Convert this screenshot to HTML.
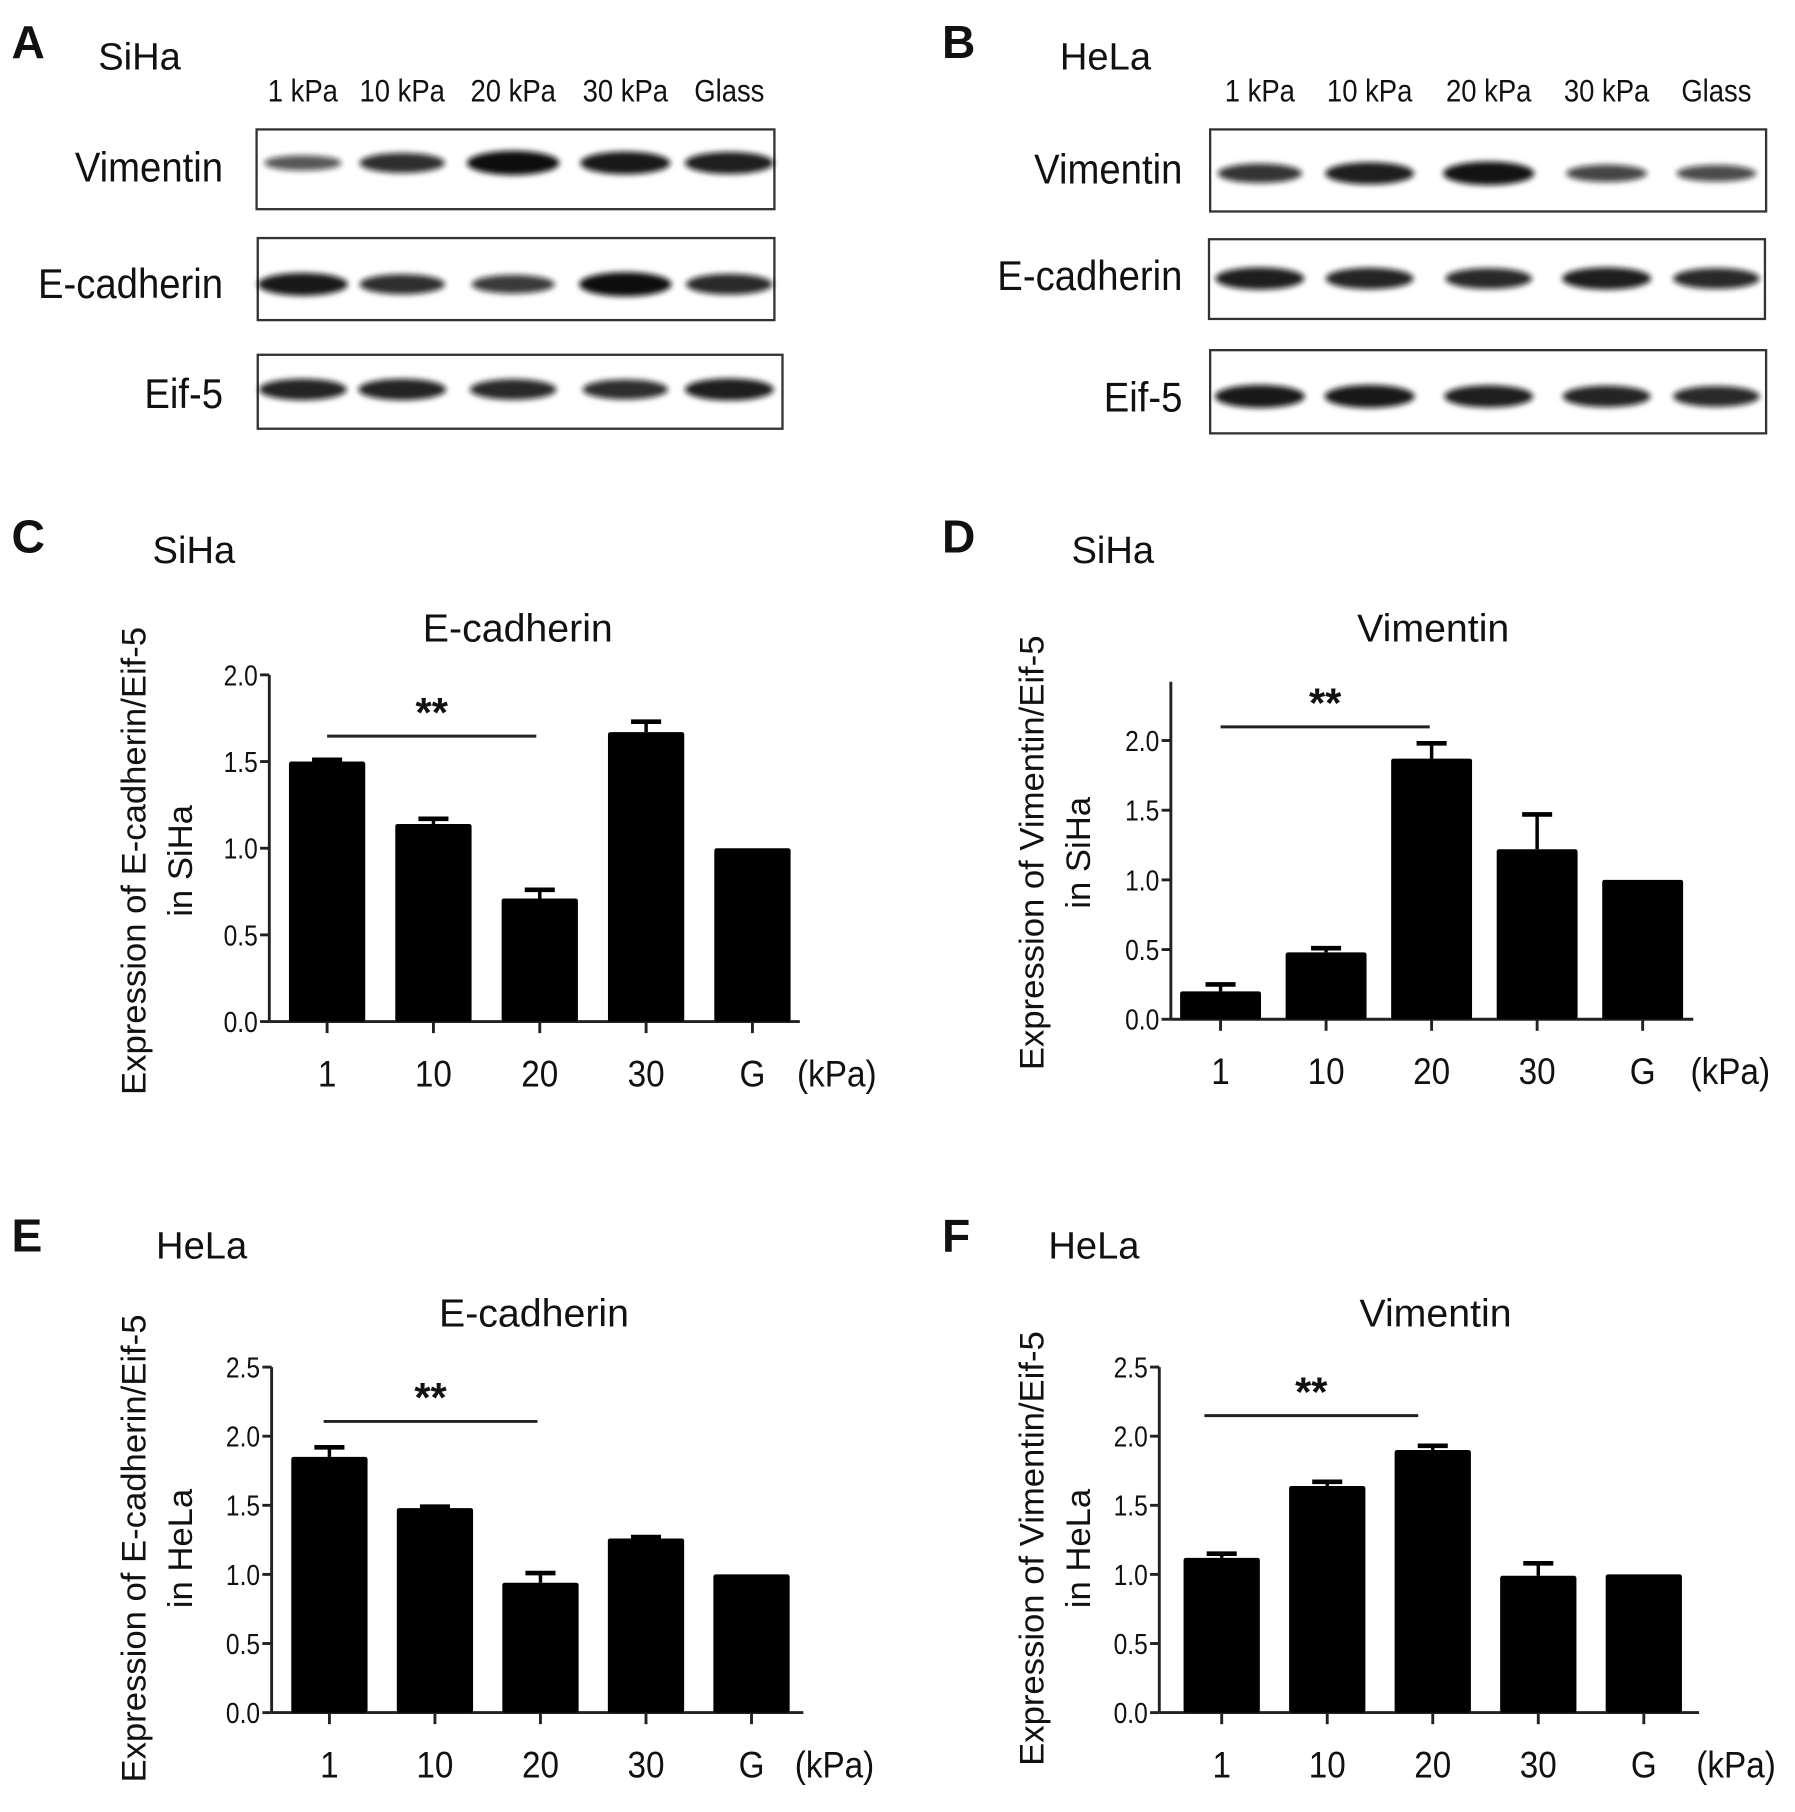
<!DOCTYPE html>
<html><head><meta charset="utf-8">
<style>
html,body{margin:0;padding:0;background:#fff;}
svg{display:block;}
text{font-family:"Liberation Sans",sans-serif;fill:#111;}
.narrow{font-family:"Liberation Sans Narrow","Liberation Sans",sans-serif;}
</style></head>
<body>
<svg id="fig" width="1795" height="1812" viewBox="0 0 1553 1568" preserveAspectRatio="none" xmlns="http://www.w3.org/2000/svg">
<defs>
<filter id="blur" x="-20%" y="-100%" width="140%" height="300%"><feGaussianBlur stdDeviation="2.5"/></filter>
</defs>
<g id="blots"></g>
<g id="charts"></g>
</svg>
<script>
// ---- chart data ----
const categories = ["1","10","20","30","G"];
const cValues = [1.50, 1.14, 0.71, 1.67, 1.00];
const cErrors = [0.01, 0.03, 0.05, 0.06, 0.0];
const dValues = [0.20, 0.48, 1.87, 1.22, 1.00];
const dErrors = [0.05, 0.03, 0.11, 0.25, 0.0];
const eValues = [1.85, 1.48, 0.94, 1.26, 1.00];
const eErrors = [0.07, 0.01, 0.07, 0.01, 0.0];
const fValues = [1.12, 1.64, 1.90, 0.99, 1.00];
const fErrors = [0.03, 0.03, 0.03, 0.09, 0.0];
const ticksTo2 = ["0.0","0.5","1.0","1.5","2.0"];
const ticksTo25 = ["0.0","0.5","1.0","1.5","2.0","2.5"];
// blot band intensities (0-1) per lane
const lanes = ["1 kPa","10 kPa","20 kPa","30 kPa","Glass"];
const aVim = [0.35,0.7,1.0,0.9,0.85];
const aEcad = [0.9,0.7,0.6,1.0,0.75];
const aEif = [0.8,0.8,0.75,0.7,0.85];
const bVim = [0.65,0.85,0.95,0.5,0.45];
const bEcad = [0.85,0.8,0.75,0.85,0.75];
const bEif = [0.9,0.9,0.85,0.8,0.75];

const NS="http://www.w3.org/2000/svg";
function mk(parent,tag,attrs,txt){const e=document.createElementNS(NS,tag);for(const k in attrs)e.setAttribute(k,attrs[k]);if(txt!==undefined)e.textContent=txt;parent.appendChild(e);return e;}
const blots=document.getElementById('blots');
const charts=document.getElementById('charts');

function panelLetter(g,x,y,l){const t=mk(g,'text',{x:x,y:y,'font-size':40,'font-weight':'bold'},l);

}
function cellName(g,x,y,s,n){const t=mk(g,'text',{x:x,y:y,'font-size':33},s);

}

function blotPanel(cfg){
  const g=mk(blots,'g',{});
  
  
  panelLetter(g,cfg.lx,50,cfg.letter);
  cellName(g,cfg.cx,60,cfg.cell,cfg.name+'-cell-line');
  cfg.laneX.forEach((x,i)=>{const t=mk(g,'text',{x:x,y:88,'font-size':27,'text-anchor':'middle','class':'narrow',transform:`translate(${x},0) scale(0.88,1) translate(${-x},0)`},lanes[i]);
    
    });
  cfg.rows.forEach(r=>{
    const lab=mk(g,'text',{x:cfg.labelX,y:r.ly,'font-size':36,'text-anchor':'end',transform:`translate(${cfg.labelX},0) scale(0.92,1) translate(${-cfg.labelX},0)`},r.label);
    
    
    const box=mk(g,'rect',{x:r.x0,y:r.y0,width:r.x1-r.x0,height:r.y1-r.y0,fill:'#fff',stroke:'#333','stroke-width':2});
    
    
    r.vals.forEach((v,i)=>{
      const w=60+v*20, h=9+v*12;
      const b=mk(g,'ellipse',{cx:cfg.laneX[i],cy:r.by,rx:w/2,ry:h/2,fill:'#111','fill-opacity':0.55+0.45*v,filter:'url(#blur)'});
      
      
    });
  });
}
blotPanel({name:'panel-a',letter:'A',lx:10,cx:85,cell:'SiHa',labelX:193,laneX:[262,348,444,541,631],
 rows:[{label:'Vimentin',ly:157,x0:222,y0:112,x1:670,y1:181,by:141,vals:aVim},
       {label:'E-cadherin',ly:258,x0:223,y0:206,x1:670,y1:277,by:246,vals:aEcad},
       {label:'Eif-5',ly:353,x0:223,y0:307,x1:677,y1:371,by:337,vals:aEif}]});
blotPanel({name:'panel-b',letter:'B',lx:815,cx:917,cell:'HeLa',labelX:1023,laneX:[1090,1185,1288,1390,1485],
 rows:[{label:'Vimentin',ly:159,x0:1047,y0:112,x1:1528,y1:183,by:150,vals:bVim},
       {label:'E-cadherin',ly:251,x0:1046,y0:207,x1:1527,y1:276,by:241,vals:bEcad},
       {label:'Eif-5',ly:356,x0:1047,y0:303,x1:1528,y1:375,by:343,vals:bEif}]});

function barChart(cfg){
  const g=mk(charts,'g',{});
  
  
  panelLetter(g,cfg.lx,cfg.ly,cfg.letter);
  cellName(g,cfg.cx,cfg.cy,cfg.cell,cfg.name+'-cell-line');
  const title=mk(g,'text',{x:cfg.tx,y:cfg.ty,'font-size':34,'text-anchor':'middle'},cfg.title);
  
  
  const yS=v=>cfg.y0-(v/0.5)*cfg.step;
  const xS=i=>cfg.x0+i*cfg.dx;
  const yaxis=mk(g,'line',{x1:cfg.ax,y1:cfg.y0,x2:cfg.ax,y2:cfg.ytop,stroke:'#222','stroke-width':2.5});
  
  
  const xaxis=mk(g,'line',{x1:cfg.ax,y1:cfg.y0,x2:cfg.axEnd,y2:cfg.y0,stroke:'#222','stroke-width':2.5});
  
  
  cfg.ticks.forEach((t,i)=>{
    const y=yS(i*0.5);
    mk(g,'line',{x1:cfg.ax-8,y1:y,x2:cfg.ax,y2:y,stroke:'#222','stroke-width':2.5});
    const tl=mk(g,'text',{x:cfg.ax-10,y:y+9,'font-size':25,'text-anchor':'end','class':'narrow',transform:`translate(${cfg.ax-10},0) scale(0.85,1) translate(${-(cfg.ax-10)},0)`},t);
    
    
  });
  categories.forEach((c,i)=>{
    const x=xS(i);
    mk(g,'line',{x1:x,y1:cfg.y0,x2:x,y2:cfg.y0+10,stroke:'#222','stroke-width':2.5});
    const tl=mk(g,'text',{x:x,y:cfg.y0+56,'font-size':32,'text-anchor':'middle','class':'narrow',transform:`translate(${x},0) scale(0.9,1) translate(${-x},0)`},c);
    
    
    const v=cfg.values[i], e=cfg.errors[i];
    if(e>0){
      mk(g,'line',{x1:x,y1:yS(v),x2:x,y2:yS(v+e),stroke:'#000','stroke-width':3});
      const cap=mk(g,'line',{x1:x-13,y1:yS(v+e),x2:x+13,y2:yS(v+e),stroke:'#000','stroke-width':4});
      
      
    }
    const b=mk(g,'rect',{x:x-cfg.bw/2,y:yS(v),width:cfg.bw,height:cfg.y0-yS(v),fill:'#000',rx:2});
    
    
  });
  const unit=mk(g,'text',{x:cfg.kx,y:cfg.y0+56,'font-size':32,'text-anchor':'middle','class':'narrow',transform:`translate(${cfg.kx},0) scale(0.9,1) translate(${-cfg.kx},0)`},'(kPa)');
  
  
  const sl=mk(g,'line',{x1:cfg.sig[0],y1:cfg.sig[2],x2:cfg.sig[1],y2:cfg.sig[2],stroke:'#222','stroke-width':2.5});
  
  
  const st=mk(g,'text',{x:(cfg.sig[0]+cfg.sig[1])/2,y:cfg.sig[2]-8,'font-size':36,'font-weight':'bold','text-anchor':'middle'},'**');
  
  
  const yt=mk(g,'text',{x:0,y:0,'font-size':30,'text-anchor':'middle',transform:`translate(${cfg.ytx},${cfg.yty}) rotate(-90)`},cfg.ytitle);
  
  
  const yt2=mk(g,'text',{x:0,y:0,'font-size':30,'text-anchor':'middle',transform:`translate(${cfg.ytx+40},${cfg.yty}) rotate(-90)`},cfg.ytitle2);
  
  
}
barChart({name:'panel-c',letter:'C',lx:10,ly:478,cx:132,cy:487,cell:'SiHa',title:'E-cadherin',tx:448,ty:555,
  ax:233,axEnd:692,y0:884,step:75,ytop:584,ticks:ticksTo2,x0:283,dx:92,bw:66,values:cValues,errors:cErrors,
  kx:724,sig:[283,464,637],ytitle:'Expression of E-cadherin/Eif-5',ytitle2:'in SiHa',ytx:126,yty:745});
barChart({name:'panel-d',letter:'D',lx:815,ly:478,cx:927,cy:487,cell:'SiHa',title:'Vimentin',tx:1240,ty:555,
  ax:1013,axEnd:1465,y0:882,step:60.3,ytop:590,ticks:ticksTo2,x0:1056,dx:91.3,bw:70,values:dValues,errors:dErrors,
  kx:1497,sig:[1056,1237,629],ytitle:'Expression of Vimentin/Eif-5',ytitle2:'in SiHa',ytx:903,yty:738});
barChart({name:'panel-e',letter:'E',lx:10,ly:1083,cx:135,cy:1089,cell:'HeLa',title:'E-cadherin',tx:462,ty:1148,
  ax:235,axEnd:695,y0:1482,step:59.8,ytop:1183,ticks:ticksTo25,x0:285,dx:91.3,bw:66,values:eValues,errors:eErrors,
  kx:722,sig:[280,465,1230],ytitle:'Expression of E-cadherin/Eif-5',ytitle2:'in HeLa',ytx:126,yty:1340});
barChart({name:'panel-f',letter:'F',lx:815,ly:1083,cx:907,cy:1089,cell:'HeLa',title:'Vimentin',tx:1242,ty:1148,
  ax:1003,axEnd:1470,y0:1482,step:59.8,ytop:1183,ticks:ticksTo25,x0:1057,dx:91.3,bw:66,values:fValues,errors:fErrors,
  kx:1502,sig:[1042,1227,1225],ytitle:'Expression of Vimentin/Eif-5',ytitle2:'in HeLa',ytx:903,yty:1340});
</script>
</body></html>
